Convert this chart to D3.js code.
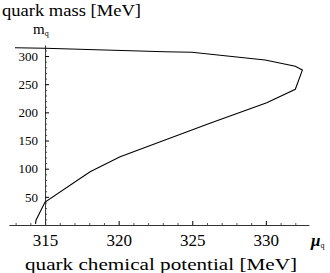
<!DOCTYPE html>
<html>
<head>
<meta charset="utf-8">
<script src="https://cdn.jsdelivr.net/npm/d3@7"></script>
<style>
body{margin:0;background:#fff;}
</style>
</head>
<body>
<div id="root"></div>
<script>
// chemical potential (MeV) and quark mass (MeV)
var mu=[314.35,314.39,315,318.06,320.1,323.15,326.2,330.06,332.0,332.48,332.0,329.95,324.97,323.15,315,312.96];
var mass=[2,8.9,40.8,94.6,121,150.9,180.5,217,241,275,282,293,306.6,307.7,313.7,314.8];
var xTicks=[315,320,325,330];
var yTicks=[50,100,150,200,250,300];

var serif='"Liberation Serif","DejaVu Serif",serif';
var W=330,H=273;
var svg=d3.select('#root').append('svg').attr('width',W).attr('height',H)
  .style('font-family',serif);

var xScale=d3.scaleLinear().domain([312.55,332.93]).range([9,309]);
var yScale=d3.scaleLinear().domain([0,319.6]).range([225,45]);

var x0=xScale(315), y0=yScale(0);

//minor ticks
var xMinor=d3.range(313,333).filter(function(d){return d%5!=0});
var yMinor=d3.range(10,320,10).filter(function(d){return d%50!=0});

svg.append('g').attr('transform','translate(0,'+y0+')')
  .call(d3.axisBottom(xScale).tickValues(xMinor).tickSizeInner(-2).tickSizeOuter(0).tickFormat(''))
  .call(function(g){g.select('.domain').remove();g.selectAll('line').attr('stroke','#555')});
svg.append('g').attr('transform','translate('+x0+',0)')
  .call(d3.axisLeft(yScale).tickValues(yMinor).tickSizeInner(-2).tickSizeOuter(0).tickFormat(''))
  .call(function(g){g.select('.domain').remove();g.selectAll('line').attr('stroke','#555')});

//major axes
var xAxis=svg.append('g').attr('transform','translate(0,'+y0+')')
  .call(d3.axisBottom(xScale).tickValues(xTicks).tickSizeInner(-4).tickSizeOuter(0).tickPadding(9))
  .attr('font-family',null).attr('font-size',null);
xAxis.select('.domain').attr('stroke','#333');
xAxis.selectAll('text').style('font-family',serif).style('font-size','17px');

var yAxis=svg.append('g').attr('transform','translate('+x0+',0)')
  .call(d3.axisLeft(yScale).tickValues(yTicks).tickSizeInner(-4).tickSizeOuter(0).tickPadding(7))
  .attr('font-family',null).attr('font-size',null);
yAxis.select('.domain').attr('stroke','#333');
yAxis.selectAll('text').style('font-family',serif).style('font-size','13px');

//curve
var pts=mu.map(function(d,i){return [d,mass[i]]});
svg.append('path').datum(pts)
  .attr('fill','none').attr('stroke','#000').attr('stroke-width',1.1)
  .attr('d',d3.line().x(function(d){return xScale(d[0])}).y(function(d){return yScale(d[1])}));

//labels
svg.append('text').attr('x',2).attr('y',16).style('font-size','17px').style('font-family',serif)
  .attr('textLength',139).attr('lengthAdjust','spacingAndGlyphs').text('quark mass [MeV]');
svg.append('text').attr('x',25).attr('y',270).style('font-size','17px').style('font-family',serif)
  .attr('textLength',272).attr('lengthAdjust','spacingAndGlyphs').text('quark chemical potential [MeV]');

var mq=svg.append('text').attr('x',33).attr('y',34).style('font-size','15px').style('font-family',serif);
mq.append('tspan').text('m');
mq.append('tspan').attr('dy',2).style('font-size','8px').text('q');

var muq=svg.append('text').attr('x',311).attr('y',246).style('font-size','17px').style('font-family',serif);
muq.append('tspan').style('font-weight','bold').style('font-style','italic').text('μ');
muq.append('tspan').attr('dy',2).style('font-size','8px').text('q');
</script>
</body>
</html>
